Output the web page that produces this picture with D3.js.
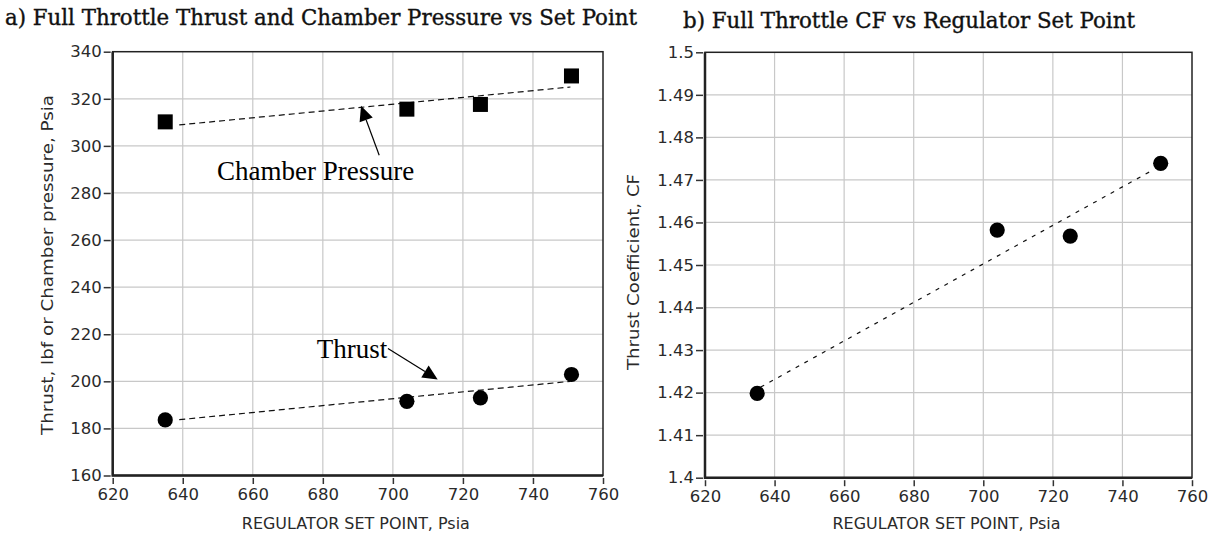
<!DOCTYPE html>
<html>
<head>
<meta charset="utf-8">
<script src="https://cdn.jsdelivr.net/npm/d3@7"></script>
<style>
  body { margin: 0; background: #fff; }
  .tick text { font-family: "DejaVu Sans", Verdana, sans-serif; font-size: 16.5px; fill: #2a2a2a; }
  .tick line { stroke: #333; stroke-width: 1.5; }
  .grid line { stroke: #c8c8c8; stroke-width: 1.2; }
  .axisTitle { font-family: "DejaVu Sans", Verdana, sans-serif; font-size: 16.5px; fill: #2a2a2a; }
  .panelTitle { font-family: "DejaVu Serif Condensed", "DejaVu Serif", serif; font-stretch: condensed; font-size: 22px; fill: #111; stroke: #111; stroke-width: 0.35; }
  .note { font-family: "Liberation Serif", "Times New Roman", serif; font-size: 27px; fill: #000; }
</style>
</head>
<body>
<svg id="chart" width="1211" height="537"></svg>
<script>
// values
var setPoint = [635, 704, 725, 751];
var chamberPressure = [310.2, 315.6, 317.6, 329.7];
var thrust = [183.6, 191.5, 193.0, 202.9];
var thrustCoef = [1.4198, 1.4582, 1.4568, 1.4739];

// dashed trend lines, end points as drawn
var pcTrendX = [639, 750.7], pcTrendY = [308.9, 325.0];
var thTrendX = [639, 750.7], thTrendY = [183.7, 200.0];
var cfTrendX = [636, 748.7], cfTrendY = [1.4213, 1.4723];

var xTicks = [620, 640, 660, 680, 700, 720, 740, 760];
var leftTicks = [160, 180, 200, 220, 240, 260, 280, 300, 320, 340];
var rightTicks = [1.4, 1.41, 1.42, 1.43, 1.44, 1.45, 1.46, 1.47, 1.48, 1.49, 1.5];
var rightTickLabels = ["1.4", "1.41", "1.42", "1.43", "1.44", "1.45", "1.46", "1.47", "1.48", "1.49", "1.5"];

var svg = d3.select("#chart");

function drawPanel(opt) {
	var x = d3.scaleLinear().domain([620, 760]).range(opt.xr);
	var y = d3.scaleLinear().domain(opt.yd).range(opt.yr);
	var g = svg.append("g");

	// grid
	g.append("g").attr("class", "grid").selectAll("line").data(xTicks.slice(1, -1)).enter().append("line")
		.attr("x1", function(d) { return x(d); }).attr("x2", function(d) { return x(d); })
		.attr("y1", opt.yr[1]).attr("y2", opt.yr[0]);
	g.append("g").attr("class", "grid").selectAll("line").data(opt.yTicks.slice(1, -1)).enter().append("line")
		.attr("y1", function(d) { return y(d); }).attr("y2", function(d) { return y(d); })
		.attr("x1", opt.xr[0]).attr("x2", opt.xr[1]);

	// axes, ticks sit a little off the frame
	var ax = g.append("g").attr("transform", "translate(0," + (opt.yr[0] + 2.5) + ")")
		.call(d3.axisBottom(x).tickValues(xTicks).tickSize(6).tickPadding(4));
	ax.select(".domain").remove();
	var ay = g.append("g").attr("transform", "translate(" + (opt.xr[0] - 2) + ",0)")
		.call(d3.axisLeft(y).tickValues(opt.yTicks).tickSize(7).tickPadding(2)
			.tickFormat(function(d, i) { return opt.yLabels ? opt.yLabels[i] : d; }));
	ay.select(".domain").remove();

	// frame
	g.append("rect").attr("x", opt.xr[0]).attr("y", opt.yr[1])
		.attr("width", opt.xr[1] - opt.xr[0]).attr("height", opt.yr[0] - opt.yr[1])
		.attr("fill", "none").attr("stroke", "#222").attr("stroke-width", 1.5);
	g.append("path")
		.attr("d", "M" + opt.xr[0] + "," + opt.yr[1] + "V" + opt.yr[0] + "H" + opt.xr[1])
		.attr("fill", "none").attr("stroke", "#222").attr("stroke-width", 2.5);

	g.append("text").attr("class", "axisTitle").attr("text-anchor", "middle")
		.attr("x", (opt.xr[0] + opt.xr[1]) / 2 - 2).attr("y", 529)
		.attr("textLength", 228).attr("lengthAdjust", "spacingAndGlyphs")
		.text("REGULATOR SET POINT, Psia");
	g.append("text").attr("class", "axisTitle").attr("text-anchor", "middle")
		.attr("transform", "translate(" + opt.yTitleX + "," + opt.yTitleY + ")rotate(-90)")
		.attr("textLength", opt.yTitleW).attr("lengthAdjust", "spacingAndGlyphs")
		.text(opt.yTitle);
	g.append("text").attr("class", "panelTitle").attr("x", opt.titleX).attr("y", opt.titleY)
		.attr("textLength", opt.titleW).attr("lengthAdjust", "spacingAndGlyphs")
		.text(opt.title);

	return { g: g, x: x, y: y };
}

function trend(p, xs, ys, dash) {
	p.g.append("path")
		.datum(d3.zip(xs, ys))
		.attr("fill", "none").attr("stroke", "#111").attr("stroke-width", 1.2)
		.attr("stroke-dasharray", dash)
		.attr("d", d3.line().x(function(d) { return p.x(d[0]); }).y(function(d) { return p.y(d[1]); }));
}

function circles(p, ys) {
	p.g.append("g").selectAll("circle").data(d3.zip(setPoint, ys)).enter().append("circle")
		.attr("cx", function(d) { return p.x(d[0]); })
		.attr("cy", function(d) { return p.y(d[1]); })
		.attr("r", 7.6).attr("fill", "#000");
}

function arrow(p, from, to) {
	var x0 = p.x(from[0]), y0 = p.y(from[1]), x1 = p.x(to[0]), y1 = p.y(to[1]);
	var a = Math.atan2(y1 - y0, x1 - x0), len = 15, w = 7;
	var bx = x1 - len * Math.cos(a), by = y1 - len * Math.sin(a);
	p.g.append("line").attr("x1", x0).attr("y1", y0).attr("x2", bx).attr("y2", by)
		.attr("stroke", "#000").attr("stroke-width", 1.2);
	p.g.append("path")
		.attr("d", "M" + x1 + "," + y1 +
			"L" + (bx + w * Math.sin(a)) + "," + (by - w * Math.cos(a)) +
			"L" + (bx - w * Math.sin(a)) + "," + (by + w * Math.cos(a)) + "Z")
		.attr("fill", "#000");
}

// a) thrust and chamber pressure
var pa = drawPanel({
	xr: [112.7, 603], yr: [475.5, 51.7], yd: [160, 340], yTicks: leftTicks,
	yTitle: "Thrust, lbf or Chamber pressure, Psia", yTitleX: 53, yTitleY: 265, yTitleW: 340,
	title: "a) Full Throttle Thrust and Chamber Pressure vs Set Point", titleX: 5, titleY: 25, titleW: 632
});
trend(pa, pcTrendX, pcTrendY, "6,4");
trend(pa, thTrendX, thTrendY, "6,4");
pa.g.append("g").selectAll("rect").data(d3.zip(setPoint, chamberPressure)).enter().append("rect")
	.attr("x", function(d) { return pa.x(d[0]) - 7.5; })
	.attr("y", function(d) { return pa.y(d[1]) - 7.5; })
	.attr("width", 15).attr("height", 15).attr("fill", "#000");
circles(pa, thrust);

pa.g.append("text").attr("class", "note").attr("x", pa.x(649.8)).attr("y", pa.y(285.4)).text("Chamber Pressure");
arrow(pa, [696.1, 296], [690.9, 317]);
pa.g.append("text").attr("class", "note").attr("x", pa.x(678.3)).attr("y", pa.y(209.8)).text("Thrust");
arrow(pa, [698.6, 213.9], [712.8, 200.8]);

// b) thrust coefficient
var pb = drawPanel({
	xr: [705, 1192], yr: [477.7, 52.3], yd: [1.4, 1.5], yTicks: rightTicks, yLabels: rightTickLabels,
	yTitle: "Thrust Coefficient, CF", yTitleX: 639, yTitleY: 272, yTitleW: 196,
	title: "b) Full Throttle CF vs Regulator Set Point", titleX: 683, titleY: 28, titleW: 452
});
trend(pb, cfTrendX, cfTrendY, "4,6");
circles(pb, thrustCoef);
</script>
</body>
</html>
